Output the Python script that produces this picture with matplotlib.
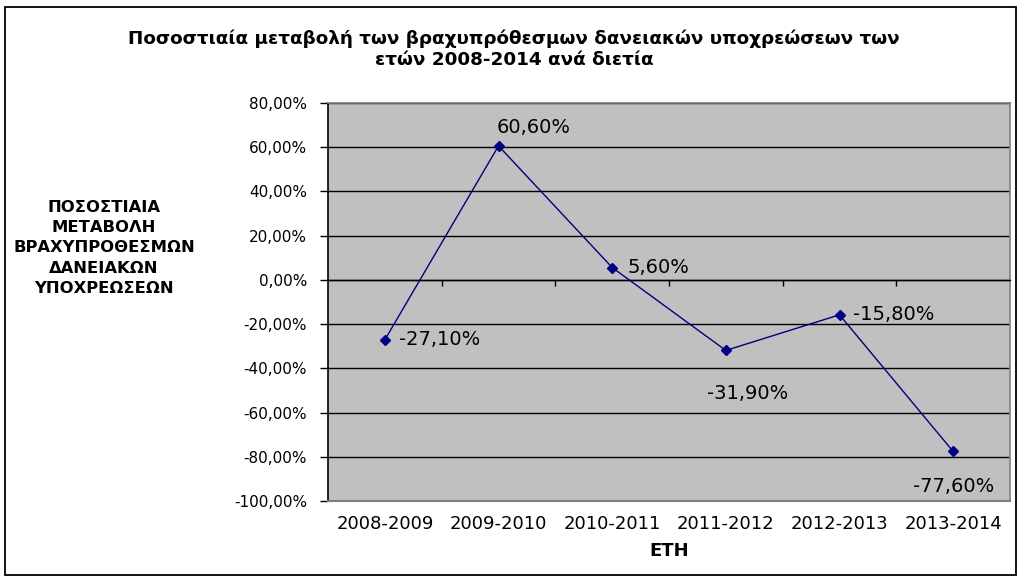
import matplotlib
matplotlib.use("Agg")
import matplotlib.pyplot as plt
import matplotlib.transforms as mtransforms
from matplotlib.patches import Rectangle
from matplotlib.ticker import FuncFormatter, FixedLocator, MultipleLocator

# Biennial percentage change of short-term loan liabilities
periods = ["2008-2009", "2009-2010", "2010-2011", "2011-2012", "2012-2013", "2013-2014"]
change_pct = [-27.1, 60.6, 5.6, -31.9, -15.8, -77.6]

title_text = ("Ποσοστιαία μεταβολή των βραχυπρόθεσμων δανειακών υποχρεώσεων των\n"
              "ετών 2008-2014 ανά διετία")
ylabel_text = "ΠΟΣΟΣΤΙΑΙΑ\nΜΕΤΑΒΟΛΗ\nΒΡΑΧΥΠΡΟΘΕΣΜΩΝ\nΔΑΝΕΙΑΚΩΝ\nΥΠΟΧΡΕΩΣΕΩΝ"
xlabel_text = "ΕΤΗ"

# label placement per point: (dx, dy) in points and horizontal alignment
label_offsets = [(10, 0, "left"), (25, 13.5, "center"), (11, 0, "left"),
                 (16, -31, "center"), (9.5, 0, "left"), (0, -25, "center")]

plt.rcParams["font.family"] = ["DejaVu Sans"]

W, H = 1022, 579
fig = plt.figure(figsize=(W / 100, H / 100), dpi=100)
fig.patch.set_facecolor("white")

# outer frame of the chart
fig.patches.append(Rectangle((5 / W, 1 - 575 / H), (1016 - 5) / W, (575 - 7) / H,
                             transform=fig.transFigure, fill=False,
                             edgecolor="black", linewidth=1.3, zorder=0))

ax = fig.add_axes([328 / W, 1 - 501 / H, (1010 - 328) / W, (501 - 103) / H])
ax.set_facecolor("#C0C0C0")

x = list(range(len(periods)))
ax.plot(x, change_pct, color="#000080", linewidth=1.0, marker="D",
        markersize=5.5, markerfacecolor="#000080", markeredgecolor="#000080",
        zorder=4, clip_on=False)

for xi, v, (dx, dy, ha) in zip(x, change_pct, label_offsets):
    lbl = f"{v:.2f}".replace(".", ",") + "%"
    ax.annotate(lbl, (xi, v), xytext=(dx, dy), textcoords="offset points",
                ha=ha, va="center", fontsize=14, color="black", zorder=5)

ax.set_xlim(-0.5, len(periods) - 0.5)
ax.set_ylim(-100, 80)
ax.yaxis.set_major_locator(MultipleLocator(20))
ax.yaxis.set_major_formatter(FuncFormatter(lambda v, p: f"{v:.2f}".replace(".", ",") + "%"))
ax.tick_params(axis="y", direction="out", length=6, width=1, color="black",
               labelsize=11, pad=9)

# horizontal grid lines
ax.grid(axis="y", color="black", linewidth=1.0, zorder=1)
ax.set_axisbelow(True)

# category axis runs along zero; ticks between categories
ax.spines["bottom"].set_position(("data", 0))
ax.spines["bottom"].set_color("black")
ax.spines["bottom"].set_linewidth(1.0)
ax.xaxis.set_major_locator(FixedLocator([i - 0.5 for i in range(1, len(periods))]))
ax.tick_params(axis="x", which="major", direction="out", length=4, width=1,
               color="black", labelbottom=False)

for s in ["top", "right"]:
    ax.spines[s].set_color("#808080")
    ax.spines[s].set_linewidth(1.2)
ax.spines["left"].set_color("black")
ax.spines["left"].set_linewidth(1.2)

# plot area lower edge
ax.axhline(-100, color="#808080", linewidth=1.5, zorder=3, clip_on=False)

# category names below the plot area
cat_shift = mtransforms.ScaledTranslation(0, -14 / 100, fig.dpi_scale_trans)
for xi, name in zip(x, periods):
    ax.text(xi, -100, name, transform=ax.transData + cat_shift, ha="center",
            va="top", fontsize=13, color="black")

fig.text(514 / W, 1 - 49 / H, title_text, ha="center", va="center",
         fontsize=13.2, fontweight="bold", linespacing=1.25)
fig.text(669 / W, 1 - 551 / H, xlabel_text, ha="center", va="center",
         fontsize=13, fontweight="bold")
fig.text(104 / W, 1 - 248 / H, ylabel_text, ha="center", va="center",
         fontsize=11.8, fontweight="bold", linespacing=1.45, multialignment="center")

fig.savefig("out.png", dpi=100, facecolor="white")
